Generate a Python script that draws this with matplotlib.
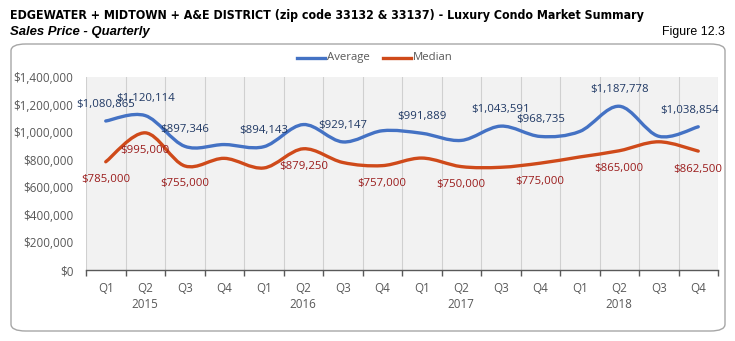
import matplotlib
matplotlib.use("Agg")
import matplotlib.pyplot as plt
from matplotlib.path import Path
from matplotlib.patches import PathPatch, FancyBboxPatch
from matplotlib import font_manager
import matplotlib.transforms as mtransforms

# data
quarters = ["Q1", "Q2", "Q3", "Q4"] * 4
years = ["2015", "2016", "2017", "2018"]
average = [1080865, 1120114, 897346, 910000, 894143, 1055000, 929147, 1010000,
           991889, 940000, 1043591, 968735, 1005000, 1187778, 970000, 1038854]
median = [785000, 995000, 755000, 810000, 740000, 879250, 780000, 757000,
          812000, 750000, 745000, 775000, 820000, 865000, 930000, 862500]
avg_labeled = [0, 1, 2, 4, 6, 8, 10, 11, 13, 15]
med_labeled = [0, 1, 2, 5, 7, 9, 11, 13, 15]

blue = "#4472C4"
red = "#CF4A1A"

# look for a narrow sans font for the header (Arial Narrow look)
cands = [f for f in font_manager.fontManager.ttflist
         if ("Narrow" in f.name or "Condensed" in f.name or f.stretch in ("condensed", "semi-condensed"))
         and "Serif" not in f.name and "Mono" not in f.name]
def pick(weight, style):
    for f in cands:
        w = f.weight if isinstance(f.weight, int) else (700 if f.weight == "bold" else 400)
        if (w >= 600) == (weight == "bold") and f.style == style:
            return font_manager.FontProperties(fname=f.fname)
    return font_manager.FontProperties(family="Liberation Sans", weight=weight, style=style)

plt.rcParams["font.family"] = ["Open Sans", "DejaVu Sans"]

fig = plt.figure(figsize=(7.35, 3.41), dpi=100)
W, H = 735, 341

def fx(px):
    return px / W

def fy(py):
    return 1 - py / H

# header
t1 = fig.text(fx(10), fy(15), "EDGEWATER + MIDTOWN + A&E DISTRICT (zip code 33132 & 33137) - Luxury Condo Market Summary",
              fontproperties=pick("bold", "normal"), va="center", ha="left")
t2 = fig.text(fx(10), fy(32), "Sales Price - Quarterly", family="Liberation Sans", weight="bold",
              style="italic", va="center", ha="left")
t3 = fig.text(fx(725), fy(32), "Figure 12.3", family="Liberation Sans", va="center", ha="right")
renderer = fig.canvas.get_renderer()
for t, target in [(t1, 635), (t2, 140), (t3, 63)]:
    t.set_fontsize(10)
    w = t.get_window_extent(renderer).width
    t.set_fontsize(10 * target / w)

# rounded chart frame
frame = FancyBboxPatch((fx(11), fy(331)), fx(725) - fx(11), fy(44) - fy(331),
                       boxstyle="round,pad=0,rounding_size=0.02", transform=fig.transFigure,
                       facecolor="white", edgecolor="#A6A6A6", linewidth=1.0, zorder=-5)
fig.patches.append(frame)

ax = fig.add_axes([fx(86), fy(270), fx(718) - fx(86), fy(77) - fy(270)])
ax.set_zorder(2)
ax.set_facecolor("#F2F2F2")
n = len(average)
xs = list(range(n))
ax.set_xlim(-0.5, n - 0.5)
ax.set_ylim(0, 1400000)


def smooth_path(x, y):
    # Catmull-Rom style bezier through the data points (like Excel's smoothed line)
    pts = list(zip(x, y))
    verts = [pts[0]]
    codes = [Path.MOVETO]
    for i in range(len(pts) - 1):
        p0 = pts[i - 1] if i > 0 else pts[i]
        p1 = pts[i]
        p2 = pts[i + 1]
        p3 = pts[i + 2] if i + 2 < len(pts) else pts[i + 1]
        c1 = (p1[0] + (p2[0] - p0[0]) / 6, p1[1] + (p2[1] - p0[1]) / 6)
        c2 = (p2[0] - (p3[0] - p1[0]) / 6, p2[1] - (p3[1] - p1[1]) / 6)
        verts += [c1, c2, p2]
        codes += [Path.CURVE4] * 3
    return Path(verts, codes)


ax.add_patch(PathPatch(smooth_path(xs, average), facecolor="none", edgecolor=blue,
                       linewidth=2.4, capstyle="round", zorder=3))
ax.add_patch(PathPatch(smooth_path(xs, median), facecolor="none", edgecolor=red,
                       linewidth=2.4, capstyle="round", zorder=3))

for i in avg_labeled:
    dx = -6 if i == n - 1 else 0
    ax.annotate("${:,}".format(average[i]), (xs[i], average[i]), xytext=(dx, 12),
                textcoords="offset points", ha="center", va="center",
                fontsize=8.2, color="#1F3864", zorder=4, annotation_clip=False)
for i in med_labeled:
    ax.annotate("${:,}".format(median[i]), (xs[i], median[i]), xytext=(0, -13),
                textcoords="offset points", ha="center", va="center",
                fontsize=8.2, color="#9A1B1B", zorder=4, annotation_clip=False)

# axes styling
for s in ["top", "right", "left"]:
    ax.spines[s].set_visible(False)
ax.spines["bottom"].set_color("#595959")
ax.spines["bottom"].set_linewidth(1.0)

ax.set_yticks(range(0, 1400001, 200000))
ax.set_yticklabels(["${:,}".format(v) for v in range(0, 1400001, 200000)])
ax.tick_params(axis="y", length=0, pad=9, labelsize=8.4, labelcolor="#595959")

ax.set_xticks(xs)
ax.set_xticklabels(quarters)
ax.tick_params(axis="x", which="major", length=0, pad=9, labelsize=8.4, labelcolor="#595959")
bounds = [i - 0.5 for i in range(n + 1)]
ax.set_xticks(bounds, minor=True)
ax.tick_params(axis="x", which="minor", length=4, direction="out", color="#595959", width=1.0)
for b in bounds:
    ax.axvline(b, color="#D0D0D0", linewidth=0.8, zorder=1)

trans = mtransforms.blended_transform_factory(ax.transData, ax.transAxes)
for k, yr in enumerate(years):
    ax.text(4 * k + 1, -35 / 193, yr, transform=trans, ha="center", va="center",
            fontsize=8.4, color="#595959")

# legend
leg_y = fy(58)
fig.lines.append(plt.Line2D([fx(297), fx(325)], [leg_y, leg_y], color=blue, linewidth=2.4,
                            transform=fig.transFigure))
fig.text(fx(327), leg_y + 0.002, "Average", fontsize=8.2, color="#595959", va="center", ha="left")
fig.lines.append(plt.Line2D([fx(383), fx(411)], [leg_y, leg_y], color=red, linewidth=2.4,
                            transform=fig.transFigure))
fig.text(fx(413), leg_y + 0.002, "Median", fontsize=8.2, color="#595959", va="center", ha="left")

fig.savefig("out.png", dpi=100, facecolor="white")
